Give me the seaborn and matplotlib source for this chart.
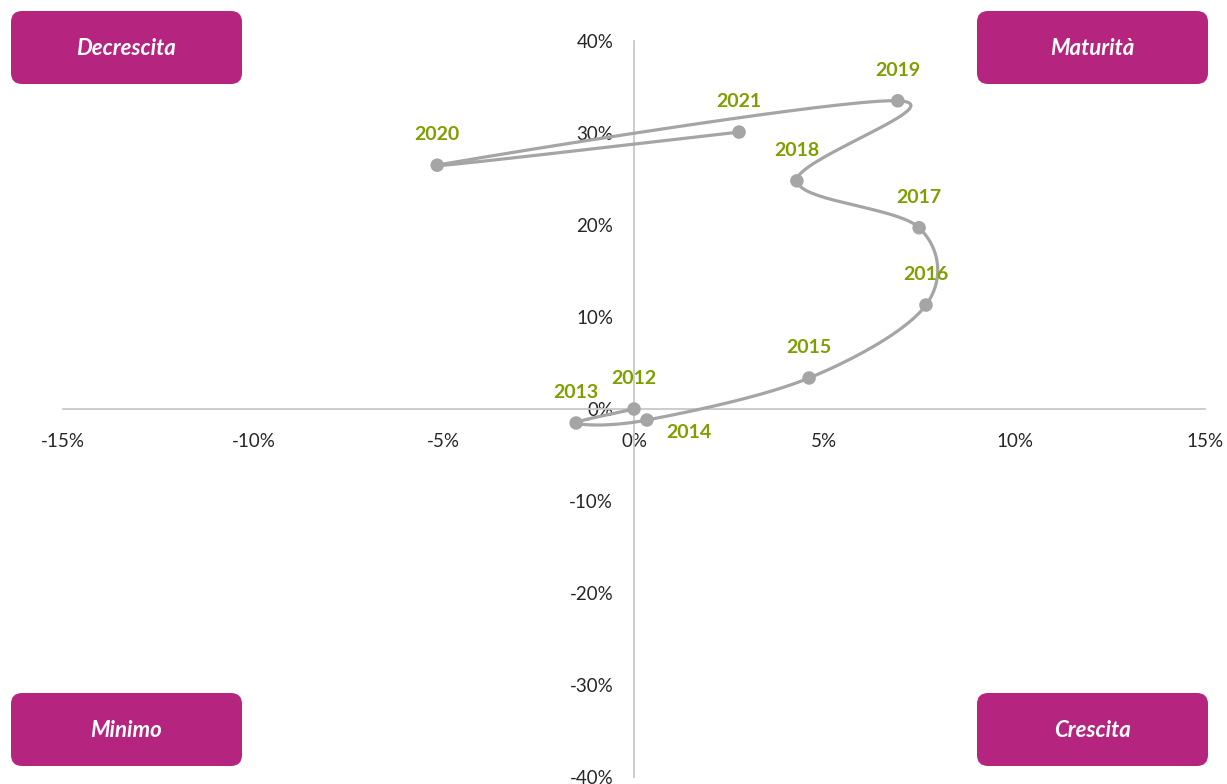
import numpy as np
import pandas as pd
import matplotlib
matplotlib.use("Agg")
import matplotlib.pyplot as plt
import seaborn as sns
from matplotlib.ticker import PercentFormatter, MultipleLocator
from matplotlib.patches import FancyBboxPatch

# dati
years = ["2012", "2013", "2014", "2015", "2016", "2017", "2018", "2019", "2020", "2021"]
x_vals = [0.0, -1.52, 0.34, 4.60, 7.67, 7.49, 4.28, 6.93, -5.17, 2.76]
y_vals = [0.0, -1.52, -1.20, 3.37, 11.3, 19.7, 24.8, 33.5, 26.5, 30.1]
quadrants = ["Decrescita", "Maturità", "Minimo", "Crescita"]

df = pd.DataFrame({"anno": years,
                   "x": np.array(x_vals) / 100,
                   "y": np.array(y_vals) / 100})

sns.set_style("white")
plt.rcParams['font.family'] = ['Lato', 'DejaVu Sans']
plt.rcParams['axes.unicode_minus'] = False

gray = "#A5A5A5"
green = "#7F9F00"
magenta = "#B5257F"

fig = plt.figure(figsize=(12.27, 7.84), dpi=100)
ax = fig.add_axes([63/1227, 7/784, 1142/1227, 736/784])
ax.set_xlim(-0.15, 0.15)
ax.set_ylim(-0.40, 0.40)

# linea smussata tipo Excel (bezier con tangenti catmull-rom, in spazio pixel)
sx = 1142 / 0.30
sy = 736 / 0.80
P = np.column_stack([df["x"] * sx, df["y"] * sy])
n = len(P)
curve = []
for i in range(n - 1):
    p0 = P[i - 1] if i > 0 else P[i]
    p1 = P[i]
    p2 = P[i + 1]
    p3 = P[i + 2] if i + 2 < n else P[i + 1]
    c1 = p1 + (p2 - p0) / 6
    c2 = p2 - (p3 - p1) / 6
    t = np.linspace(0, 1, 40)[:, None]
    seg = (1-t)**3 * p1 + 3*(1-t)**2*t * c1 + 3*(1-t)*t**2 * c2 + t**3 * p2
    curve.append(seg)
curve = np.vstack(curve)
ax.plot(curve[:, 0] / sx, curve[:, 1] / sy, color=gray, lw=2.3, zorder=3,
        solid_capstyle="round")

sns.scatterplot(data=df, x="x", y="y", color=gray, s=95, edgecolor="none",
                zorder=4, ax=ax, legend=False)

for _, r in df.iterrows():
    off = (30, -9) if r["anno"] == "2014" else (0, 22)
    ax.annotate(r["anno"], (r["x"], r["y"]), xytext=off, textcoords="offset points",
                ha="center", va="center", color=green, fontsize=14, fontweight="bold")

# assi che si incrociano sullo zero
for s in ["top", "right"]:
    ax.spines[s].set_visible(False)
ax.spines["left"].set_position(("data", 0))
ax.spines["bottom"].set_position(("data", 0))
ax.spines["left"].set_color("#C8C8C8")
ax.spines["bottom"].set_color("#C8C8C8")
ax.spines["left"].set_linewidth(1.3)
ax.spines["bottom"].set_linewidth(1.3)
ax.xaxis.set_major_locator(MultipleLocator(0.05))
ax.yaxis.set_major_locator(MultipleLocator(0.10))
ax.xaxis.set_major_formatter(PercentFormatter(1.0, decimals=0))
ax.yaxis.set_major_formatter(PercentFormatter(1.0, decimals=0))
ax.tick_params(axis="x", length=0, pad=17, labelsize=13.5, colors="#262626")
ax.tick_params(axis="y", length=0, pad=15, labelsize=13.5, colors="#262626")
ax.set_xlabel("")
ax.set_ylabel("")
ax.patch.set_alpha(0)

# riquadri dei quadranti (pixel)
boxes = [(11, 11), (977, 11), (11, 693), (977, 693)]
for name, (bx, by) in zip(quadrants, boxes):
    w, h = 231, 73
    patch = FancyBboxPatch((bx / 100, (784 - by - h) / 100), w / 100, h / 100,
                           boxstyle="round,pad=0,rounding_size=0.11",
                           transform=fig.dpi_scale_trans, facecolor=magenta,
                           edgecolor="none")
    fig.patches.append(patch)
    fig.text((bx + w / 2) / 1227, 1 - (by + h / 2 + 1) / 784, name, ha="center", va="center",
             color="white", fontsize=16, fontweight="bold", style="italic")

fig.savefig("out.png", dpi=100)
